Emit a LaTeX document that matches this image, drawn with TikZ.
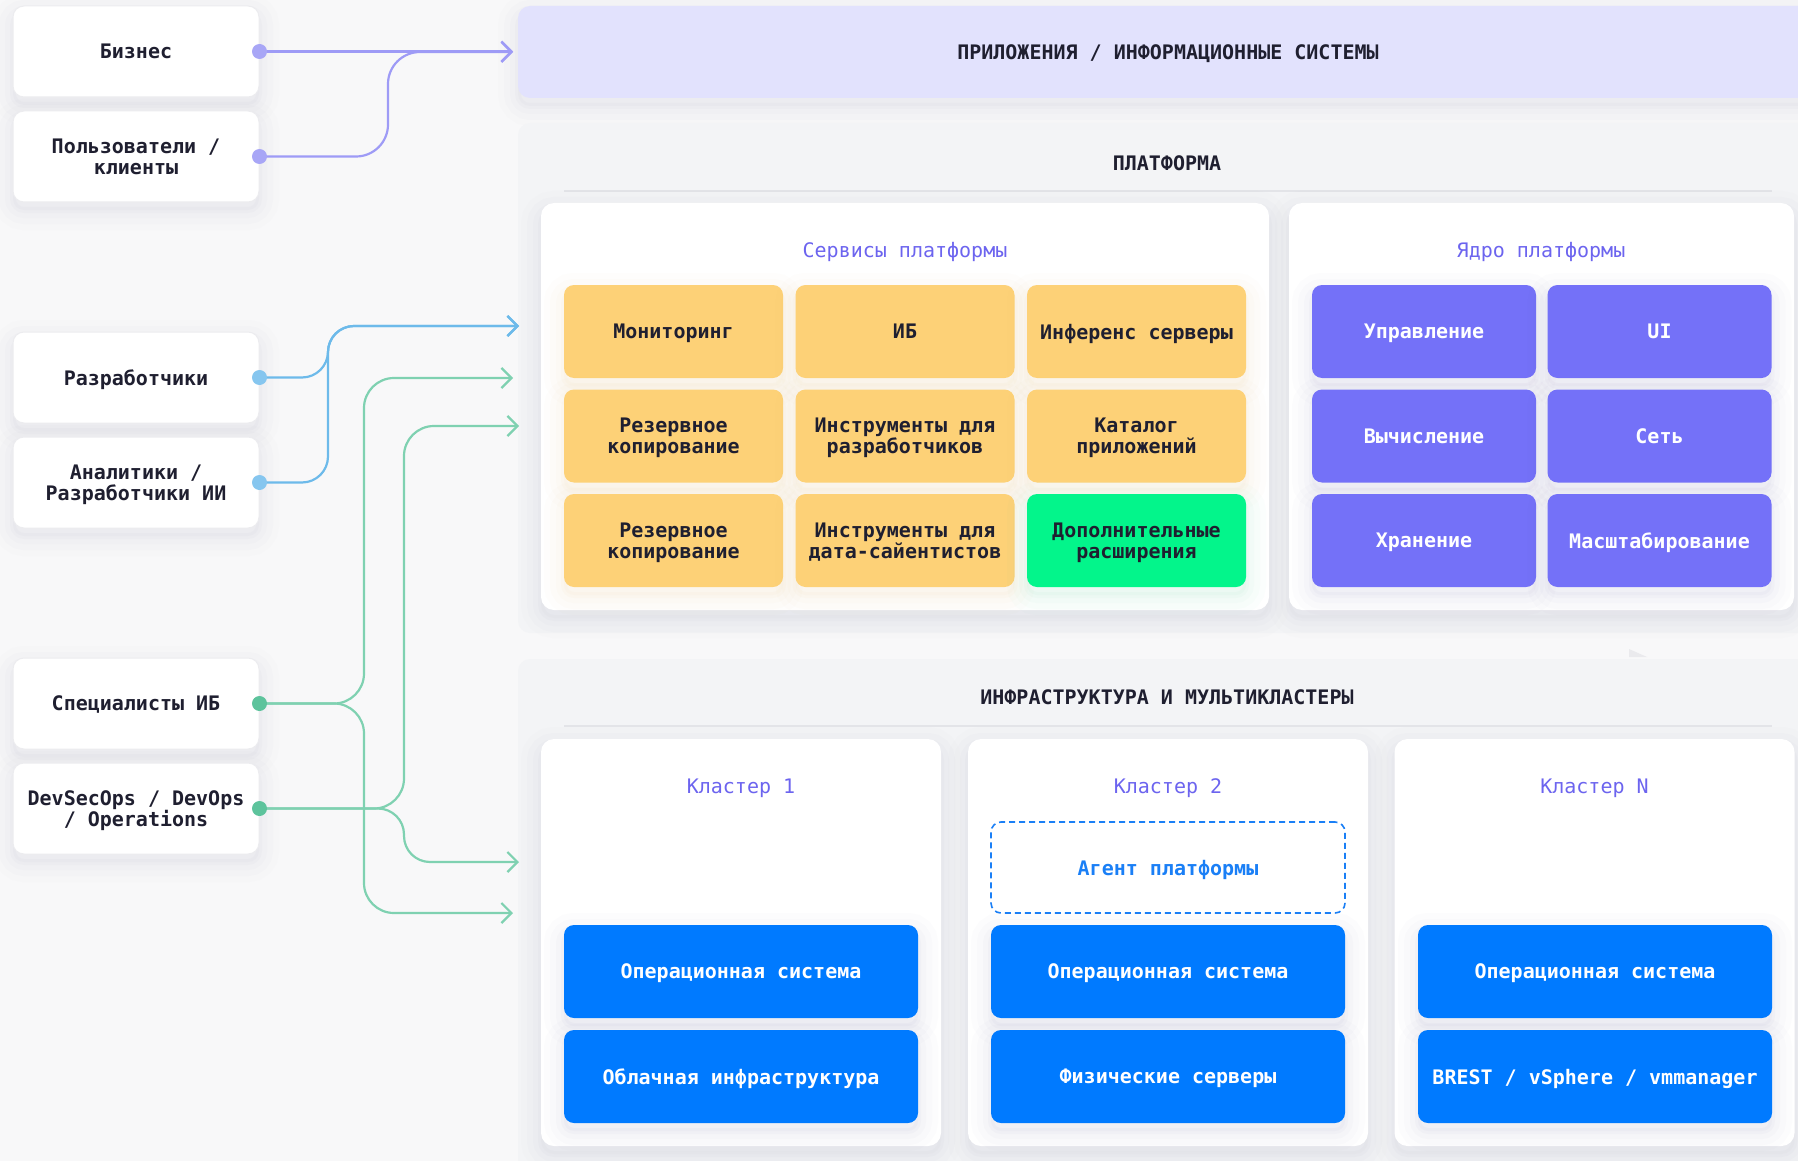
\documentclass[tikz,border=0pt]{standalone}
\usepackage{fontspec}
\setmonofont{DejaVu Sans Mono}
\usetikzlibrary{arrows.meta}

% palette
\definecolor{pagebg}{HTML}{F8F8F9}
\definecolor{panelbg}{HTML}{F3F4F6}
\definecolor{rulegray}{HTML}{E3E4E8}
\definecolor{bannerfill}{HTML}{E2E2FD}
\definecolor{ink}{HTML}{1F1F30}
\definecolor{titlepurple}{HTML}{6C64EF}
\definecolor{svcyellow}{HTML}{FDD177}
\definecolor{extgreen}{HTML}{03F58B}
\definecolor{corepurple}{HTML}{7471F8}
\definecolor{osblue}{HTML}{007AFF}
\definecolor{agentblue}{HTML}{1A7FF6}
\definecolor{linkpurple}{HTML}{9E9BF6}
\definecolor{dotpurple}{HTML}{A8A6F6}
\definecolor{linkblue}{HTML}{6DBAEA}
\definecolor{dotblue}{HTML}{86C6EF}
\definecolor{linkgreen}{HTML}{7FD1B1}
\definecolor{dotgreen}{HTML}{5DC39C}
\definecolor{boxedge}{HTML}{ECECEF}
\definecolor{shadowgray}{HTML}{8A8AA6}
\definecolor{shadowwarm}{HTML}{E6B550}
\definecolor{shadowviolet}{HTML}{6E64A8}
\definecolor{shadowgreen}{HTML}{3CCB80}
\definecolor{shadowblue}{HTML}{6A6A9A}
\definecolor{nubgray}{HTML}{EAEAED}

\tikzset{
  % soft drop shadow built from stacked translucent strokes
  glow/.style={
    preaction={draw=#1, line width=40pt, draw opacity=0.014, transform canvas={yshift=-8pt}},
    preaction={draw=#1, line width=28pt, draw opacity=0.018, transform canvas={yshift=-8pt}},
    preaction={draw=#1, line width=16pt, draw opacity=0.024, transform canvas={yshift=-8pt}},
    preaction={draw=#1, line width=6pt, draw opacity=0.03, fill=#1, fill opacity=0.03, transform canvas={yshift=-8pt}}},
  txt/.style={font=\ttfamily\bfseries\fontsize{20}{21}\selectfont, text=ink, align=center, text depth=0pt},
  leftbox/.style={txt, rectangle, rounded corners=11pt, fill=white, draw=boxedge, line width=1pt,
    minimum width=246pt, minimum height=91pt, inner sep=0pt, glow=shadowgray},
  panel/.style={txt, rectangle, rounded corners=12pt, inner sep=0pt},
  card/.style={rectangle, rounded corners=13pt, fill=white, inner sep=0pt, glow=shadowgray},
  sectitle/.style={txt, inner sep=0pt},
  subtitle/.style={font=\ttfamily\fontsize{20}{21}\selectfont, text=titlepurple, inner sep=0pt, text depth=0pt},
  tile/.style={txt, rectangle, rounded corners=10pt, inner sep=0pt},
  svcbox/.style={tile, fill=svcyellow, minimum width=219pt, minimum height=93pt, glow=shadowwarm},
  extbox/.style={tile, fill=extgreen, minimum width=219pt, minimum height=93pt, glow=shadowgreen},
  corebox/.style={tile, fill=corepurple, text=white, minimum width=224pt, minimum height=93pt, glow=shadowviolet},
  osbox/.style={tile, fill=osblue, text=white, minimum width=354pt, minimum height=93pt, glow=shadowblue},
  agentbox/.style={tile, draw=agentblue, dashed, dash pattern=on 6pt off 4pt, line width=1.6pt,
    text=agentblue, fill=white, minimum width=354pt, minimum height=91pt},
  sepline/.style={draw=rulegray, line width=1.6pt},
  link/.style={draw=#1, line width=2.2pt, -{Straight Barb[length=10pt,width=20pt]}},
}

\begin{document}
\begin{tikzpicture}[x=1pt,y=-1pt]
\useasboundingbox (0,0) rectangle (1798,1161);
\fill[pagebg] (0,0) rectangle (1798,1161);

% ---------- top banner ----------
\node[panel, fill=bannerfill, minimum width=1300pt, minimum height=92pt, glow=shadowgray] (apps) at (1168,52)
  {ПРИЛОЖЕНИЯ / ИНФОРМАЦИОННЫЕ СИСТЕМЫ};

% ---------- platform ----------
\node[panel, fill=panelbg, minimum width=1300pt, minimum height=510pt] (platform) at (1168,378) {};
\node[sectitle] (platformTitle) at (1167,163) {ПЛАТФОРМА};
\draw[sepline] (564,191) -- (1772,191);

\node[card, minimum width=728pt, minimum height=407pt] (svc) at (905,406.5) {};
\node[subtitle] (svcTitle) at (905,250) {Сервисы платформы};

\node[svcbox] (mon)  at (673.5,331.5) {Мониторинг};
\node[svcbox] (sec)  at (905,331.5)   {ИБ};
\node[svcbox] (inf)  at (1136.5,331.5) {Инференс серверы};
\node[svcbox] (bak1) at (673.5,436)   {Резервное\\копирование};
\node[svcbox] (devt) at (905,436)     {Инструменты для\\разработчиков};
\node[svcbox] (cat)  at (1136.5,436)  {Каталог\\приложений};
\node[svcbox] (bak2) at (673.5,540.5) {Резервное\\копирование};
\node[svcbox] (dst)  at (905,540.5)   {Инструменты для\\дата-сайентистов};
\node[extbox] (ext)  at (1136.5,540.5) {Дополнительные\\расширения};

\node[card, minimum width=505pt, minimum height=407pt] (core) at (1541.5,406.5) {};
\node[subtitle] (coreTitle) at (1541,250) {Ядро платформы};

\node[corebox] (mgmt)  at (1424,331.5)   {Управление};
\node[corebox] (ui)    at (1659.5,331.5) {UI};
\node[corebox] (comp)  at (1424,436)     {Вычисление};
\node[corebox] (net)   at (1659.5,436)   {Сеть};
\node[corebox] (store) at (1424,540.5)   {Хранение};
\node[corebox] (scale) at (1659.5,540.5) {Масштабирование};

% small marker between the panels
\fill[nubgray] (1629,649) -- (1629,657) -- (1647,657) -- cycle;

% ---------- infrastructure ----------
\node[panel, fill=panelbg, minimum width=1300pt, minimum height=531pt] (infra) at (1168,924.5) {};
\node[sectitle] (infraTitle) at (1167,697) {ИНФРАСТРУКТУРА И МУЛЬТИКЛАСТЕРЫ};
\draw[sepline] (564,726) -- (1772,726);

\node[card, minimum width=400pt, minimum height=407pt] (c1) at (741,942.5) {};
\node[card, minimum width=400pt, minimum height=407pt] (c2) at (1168,942.5) {};
\node[card, minimum width=400pt, minimum height=407pt] (c3) at (1594.5,942.5) {};
\node[subtitle] (c1Title) at (741,786)  {Кластер 1};
\node[subtitle] (c2Title) at (1168,786) {Кластер 2};
\node[subtitle] (c3Title) at (1594.5,786) {Кластер N};

\node[agentbox] (agent) at (1168,867.5) {Агент платформы};

\node[osbox] (os1) at (741,971.5)  {Операционная система};
\node[osbox] (os2) at (1168,971.5) {Операционная система};
\node[osbox] (os3) at (1595,971.5) {Операционная система};
\node[osbox] (cloud) at (741,1076.5)  {Облачная инфраструктура};
\node[osbox] (metal) at (1168,1076.5) {Физические серверы};
\node[osbox] (virt)  at (1595,1076.5) {BREST / vSphere / vmmanager};

% ---------- roles ----------
\node[leftbox] (biz)   at (136,51.5)  {Бизнес};
\node[leftbox] (users) at (136,156.5) {Пользователи /\\клиенты};
\node[leftbox] (dev)   at (136,377.5) {Разработчики};
\node[leftbox] (ana)   at (136,482.5) {Аналитики /\\Разработчики ИИ};
\node[leftbox] (isec)  at (136,703.5) {Специалисты ИБ};
\node[leftbox] (ops)   at (136,808.5) {DevSecOps / DevOps\\/ Operations};

% ---------- connectors ----------
\coordinate (tipApps)    at (513,52);
\coordinate (tipDev)     at (519,326);
\coordinate (tipSecUp)   at (513,378);
\coordinate (tipOpsUp)   at (519,426);
\coordinate (tipOpsDown) at (519,862);
\coordinate (tipSecDown) at (513,913);
\coordinate (spineUsers) at (388,0);
\coordinate (spineDev)   at (328,0);
\coordinate (spineSec)   at (364,0);
\coordinate (spineOps)   at (404,0);

\draw[link=linkpurple] (biz.east) -- (biz.east -| tipApps);
\draw[link=linkpurple, rounded corners=32pt]
  (users.east) -- (users.east -| spineUsers) -- (spineUsers |- tipApps) -- (tipApps);

\draw[link=linkblue, rounded corners=26pt]
  (dev.east) -- (dev.east -| spineDev) -- (spineDev |- tipDev) -- (tipDev);
\draw[link=linkblue, rounded corners=26pt]
  (ana.east) -- (ana.east -| spineDev) -- (spineDev |- tipDev) -- (tipDev);

\draw[link=linkgreen, rounded corners=30pt]
  (isec.east) -- (isec.east -| spineSec) -- (spineSec |- tipSecUp) -- (tipSecUp);
\draw[link=linkgreen, rounded corners=30pt]
  (isec.east) -- (isec.east -| spineSec) -- (spineSec |- tipSecDown) -- (tipSecDown);
\draw[link=linkgreen, rounded corners=30pt]
  (ops.east) -- (ops.east -| spineOps) -- (spineOps |- tipOpsUp) -- (tipOpsUp);
\draw[link=linkgreen, rounded corners=26pt]
  (ops.east) -- (ops.east -| spineOps) -- (spineOps |- tipOpsDown) -- (tipOpsDown);

% endpoints on the role cards
\fill[dotpurple] (biz.east)   circle[radius=7.5pt];
\fill[dotpurple] (users.east) circle[radius=7.5pt];
\fill[dotblue]   (dev.east)   circle[radius=7.5pt];
\fill[dotblue]   (ana.east)   circle[radius=7.5pt];
\fill[dotgreen]  (isec.east)  circle[radius=7.5pt];
\fill[dotgreen]  (ops.east)   circle[radius=7.5pt];
\end{tikzpicture}
\end{document}
